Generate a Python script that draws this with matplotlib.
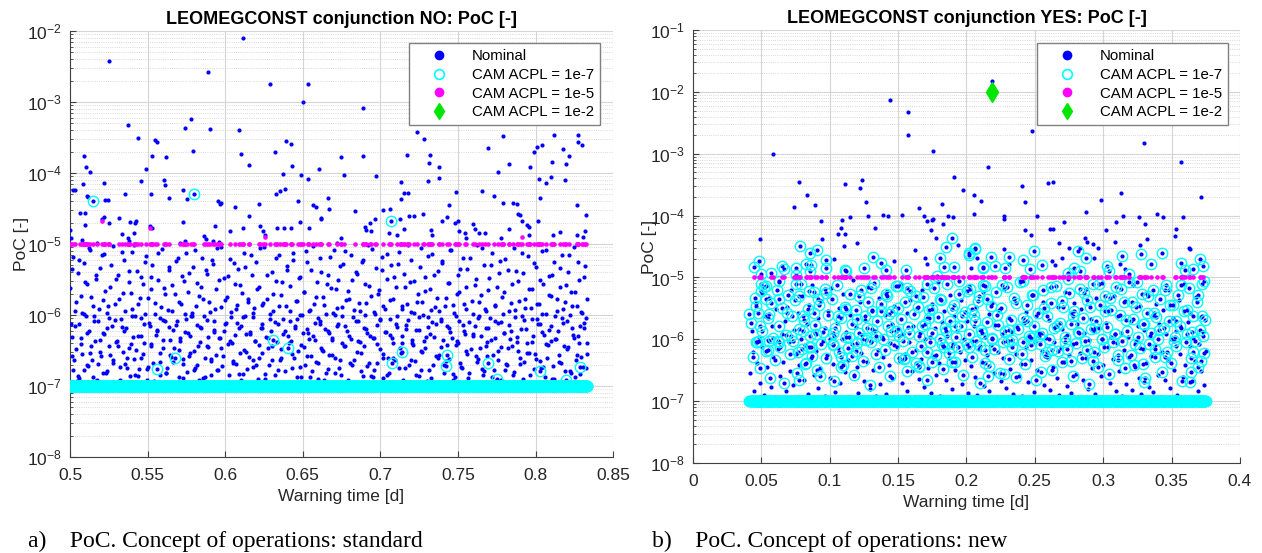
import numpy as np
import matplotlib
matplotlib.use("Agg")
import matplotlib.pyplot as plt
from matplotlib.lines import Line2D
from matplotlib.ticker import FuncFormatter, FixedLocator, NullFormatter, LogFormatterSciNotation

plt.rcParams['font.family'] = ['Liberation Sans', 'DejaVu Sans']
plt.rcParams['mathtext.default'] = 'regular'

# ---------------- data (warning time [d], log10 PoC) ----------------
# panel a) standard: dense nominal cloud below 1e-5
left_cloud = [
    (0.500,-5.62),(0.501,-6.31),(0.502,-5.18),(0.502,-6.77),(0.503,-5.95),(0.504,-6.48),(0.505,-5.41),(0.506,-6.12),(0.506,-6.89),(0.507,-5.73),
    (0.508,-6.55),(0.509,-5.27),(0.510,-6.02),(0.511,-6.71),(0.511,-5.56),(0.512,-6.23),(0.513,-5.09),(0.514,-6.64),(0.515,-5.88),(0.516,-6.37),
    (0.517,-5.49),(0.517,-6.93),(0.518,-6.08),(0.519,-5.34),(0.520,-6.58),(0.521,-5.79),(0.522,-6.27),(0.522,-5.14),(0.523,-6.82),(0.524,-5.97),
    (0.525,-6.44),(0.526,-5.61),(0.527,-6.15),(0.528,-5.03),(0.528,-6.68),(0.529,-5.85),(0.530,-6.36),(0.531,-5.44),(0.532,-6.91),(0.533,-6.05),
    (0.534,-5.69),(0.534,-6.52),(0.535,-5.22),(0.536,-6.19),(0.537,-6.75),(0.538,-5.53),(0.539,-6.41),(0.540,-5.91),(0.540,-5.11),(0.541,-6.62),
    (0.542,-6.01),(0.543,-5.38),(0.544,-6.86),(0.545,-5.76),(0.546,-6.29),(0.546,-5.47),(0.547,-6.55),(0.548,-5.98),(0.549,-5.17),(0.550,-6.73),
    (0.551,-6.11),(0.552,-5.64),(0.552,-6.43),(0.553,-5.29),(0.554,-6.94),(0.555,-5.83),(0.556,-6.22),(0.557,-5.51),(0.558,-6.66),(0.558,-6.04),
    (0.559,-5.07),(0.560,-6.35),(0.561,-5.71),(0.562,-6.81),(0.563,-5.93),(0.564,-6.17),(0.564,-5.36),(0.565,-6.59),(0.566,-5.58),(0.567,-6.47),
    (0.568,-5.24),(0.569,-6.09),(0.570,-6.88),(0.570,-5.81),(0.571,-6.32),(0.572,-5.45),(0.573,-6.69),(0.574,-5.99),(0.575,-5.13),(0.576,-6.26),
    (0.576,-5.67),(0.577,-6.53),(0.578,-6.02),(0.579,-5.33),(0.580,-6.78),(0.581,-5.87),(0.582,-6.14),(0.582,-5.55),(0.583,-6.92),(0.584,-6.38),
    (0.585,-5.19),(0.586,-5.78),(0.587,-6.61),(0.588,-6.07),(0.588,-5.42),(0.589,-6.45),(0.590,-5.96),(0.591,-6.84),(0.592,-5.28),(0.593,-6.21),
    (0.594,-5.63),(0.594,-6.57),(0.595,-5.06),(0.596,-6.33),(0.597,-5.89),(0.598,-6.72),(0.599,-5.48),(0.600,-6.12),(0.600,-6.96),(0.601,-5.74),
    (0.602,-6.41),(0.603,-5.21),(0.604,-6.03),(0.605,-6.65),(0.606,-5.57),(0.606,-6.28),(0.607,-5.92),(0.608,-5.35),(0.609,-6.83),(0.610,-6.16),
    (0.611,-5.69),(0.612,-6.49),(0.612,-5.12),(0.613,-6.01),(0.614,-6.76),(0.615,-5.82),(0.616,-6.24),(0.617,-5.44),(0.618,-6.63),(0.618,-5.97),
    (0.619,-6.37),(0.620,-5.26),(0.621,-6.90),(0.622,-5.61),(0.623,-6.18),(0.624,-5.86),(0.624,-6.54),(0.625,-5.04),(0.626,-6.31),(0.627,-5.77),
    (0.628,-6.70),(0.629,-6.06),(0.630,-5.39),(0.630,-6.44),(0.631,-5.94),(0.632,-6.85),(0.633,-5.52),(0.634,-6.13),(0.635,-5.16),(0.636,-6.60),
    (0.636,-5.72),(0.637,-6.27),(0.638,-6.97),(0.639,-5.87),(0.640,-5.31),(0.641,-6.40),(0.642,-6.08),(0.642,-5.59),(0.643,-6.74),(0.644,-5.23),
    (0.645,-6.19),(0.646,-5.80),(0.647,-6.51),(0.648,-6.00),(0.648,-5.46),(0.649,-6.87),(0.650,-6.25),(0.651,-5.68),(0.652,-5.10),(0.653,-6.58),
    (0.654,-5.95),(0.654,-6.34),(0.655,-5.37),(0.656,-6.79),(0.657,-5.84),(0.658,-6.11),(0.659,-5.54),(0.660,-6.67),(0.660,-6.04),(0.661,-5.20),
    (0.662,-6.46),(0.663,-5.75),(0.664,-6.91),(0.665,-5.99),(0.666,-6.22),(0.666,-5.43),(0.667,-6.56),(0.668,-5.62),(0.669,-6.35),(0.670,-5.08),
    (0.671,-6.82),(0.672,-5.90),(0.672,-6.15),(0.673,-5.50),(0.674,-6.63),(0.675,-6.02),(0.676,-5.28),(0.677,-6.43),(0.678,-5.79),(0.678,-6.94),
    (0.679,-5.66),(0.680,-6.29),(0.681,-5.15),(0.682,-6.71),(0.683,-5.93),(0.684,-6.09),(0.684,-5.40),(0.685,-6.52),(0.686,-5.83),(0.687,-6.38),
    (0.688,-5.25),(0.689,-6.86),(0.690,-6.00),(0.690,-5.57),(0.691,-6.20),(0.692,-5.02),(0.693,-6.68),(0.694,-5.73),(0.695,-6.33),(0.696,-5.96),
    (0.696,-6.78),(0.697,-5.34),(0.698,-6.14),(0.699,-5.65),(0.700,-6.48),(0.701,-5.18),(0.702,-6.89),(0.702,-5.88),(0.703,-6.24),(0.704,-5.49),
    (0.705,-6.60),(0.706,-6.05),(0.707,-5.30),(0.708,-6.39),(0.708,-5.78),(0.709,-6.95),(0.710,-5.60),(0.711,-6.17),(0.712,-5.11),(0.713,-6.54),
    (0.714,-5.91),(0.714,-6.30),(0.715,-5.42),(0.716,-6.75),(0.717,-5.85),(0.718,-6.07),(0.719,-5.53),(0.720,-6.64),(0.720,-5.22),(0.721,-6.42),
    (0.722,-5.97),(0.723,-6.84),(0.724,-5.70),(0.725,-6.21),(0.726,-5.05),(0.726,-6.50),(0.727,-5.81),(0.728,-6.36),(0.729,-5.46),(0.730,-6.93),
    (0.731,-6.03),(0.732,-5.63),(0.732,-6.27),(0.733,-5.14),(0.734,-6.70),(0.735,-5.89),(0.736,-6.12),(0.737,-5.38),(0.738,-6.57),(0.738,-5.94),
    (0.739,-6.45),(0.740,-5.27),(0.741,-6.81),(0.742,-5.76),(0.743,-6.16),(0.744,-5.55),(0.744,-6.62),(0.745,-5.09),(0.746,-6.32),(0.747,-5.86),
    (0.748,-6.88),(0.749,-6.01),(0.750,-5.44),(0.750,-6.40),(0.751,-5.67),(0.752,-6.73),(0.753,-5.19),(0.754,-6.23),(0.755,-5.92),(0.756,-6.55),
    (0.756,-5.35),(0.757,-6.10),(0.758,-6.96),(0.759,-5.80),(0.760,-6.29),(0.761,-5.58),(0.762,-6.66),(0.762,-5.01),(0.763,-6.04),(0.764,-6.47),
    (0.765,-5.72),(0.766,-6.85),(0.767,-5.29),(0.768,-6.19),(0.768,-5.95),(0.769,-6.58),(0.770,-5.48),(0.771,-6.35),(0.772,-5.13),(0.773,-6.77),
    (0.774,-5.87),(0.774,-6.08),(0.775,-5.60),(0.776,-6.51),(0.777,-5.24),(0.778,-6.92),(0.779,-5.98),(0.780,-6.26),(0.780,-5.68),(0.781,-6.69),
    (0.782,-5.37),(0.783,-6.14),(0.784,-5.83),(0.785,-6.44),(0.786,-5.06),(0.786,-6.80),(0.787,-5.93),(0.788,-6.31),(0.789,-5.52),(0.790,-6.61),
    (0.791,-6.02),(0.792,-5.41),(0.792,-6.90),(0.793,-5.77),(0.794,-6.20),(0.795,-5.17),(0.796,-6.53),(0.797,-5.90),(0.798,-6.38),(0.798,-5.64),
    (0.799,-6.76),(0.800,-5.32),(0.801,-6.06),(0.802,-5.84),(0.803,-6.65),(0.804,-5.10),(0.804,-6.24),(0.805,-5.56),(0.806,-6.87),(0.807,-5.99),
    (0.808,-6.42),(0.809,-5.45),(0.810,-6.15),(0.810,-5.73),(0.811,-6.72),(0.812,-5.26),(0.813,-6.34),(0.814,-5.94),(0.815,-6.57),(0.816,-5.61),
    (0.816,-6.94),(0.817,-5.15),(0.818,-6.11),(0.819,-5.82),(0.820,-6.48),(0.821,-5.39),(0.822,-6.79),(0.822,-6.00),(0.823,-5.68),(0.824,-6.28),
    (0.825,-5.04),(0.826,-6.63),(0.827,-5.88),(0.828,-6.39),(0.828,-5.50),(0.829,-6.83),(0.830,-5.97),(0.831,-6.18),(0.832,-5.31),(0.833,-6.55),
]
left_cloud_b = [
    (0.5005,-6.12),(0.5014,-5.35),(0.5027,-6.64),(0.5038,-5.81),(0.5046,-6.93),(0.5057,-5.22),(0.5069,-6.41),(0.5076,-5.97),(0.5088,-6.78),(0.5095,-5.54),
    (0.5107,-6.26),(0.5119,-5.05),(0.5126,-6.53),(0.5137,-5.74),(0.5148,-6.88),(0.5156,-6.02),(0.5167,-5.43),(0.5178,-6.69),(0.5185,-5.91),(0.5196,-6.35),
    (0.5208,-5.16),(0.5215,-6.81),(0.5227,-5.66),(0.5239,-6.18),(0.5246,-5.87),(0.5257,-6.57),(0.5264,-5.29),(0.5276,-6.95),(0.5288,-6.07),(0.5295,-5.49),
    (0.5306,-6.44),(0.5318,-5.78),(0.5325,-6.73),(0.5336,-5.11),(0.5347,-6.22),(0.5355,-5.94),(0.5366,-6.61),(0.5377,-5.38),(0.5385,-6.86),(0.5396,-5.69),
    (0.5407,-6.31),(0.5414,-5.02),(0.5426,-6.49),(0.5438,-5.84),(0.5445,-6.76),(0.5456,-6.04),(0.5468,-5.57),(0.5475,-6.39),(0.5486,-5.25),(0.5497,-6.91),
    (0.5505,-5.76),(0.5517,-6.15),(0.5524,-5.46),(0.5536,-6.67),(0.5547,-5.99),(0.5555,-6.28),(0.5566,-5.13),(0.5578,-6.84),(0.5585,-5.89),(0.5596,-6.46),
    (0.5608,-5.62),(0.5615,-6.09),(0.5627,-6.74),(0.5638,-5.32),(0.5646,-6.56),(0.5657,-5.95),(0.5664,-6.21),(0.5676,-5.71),(0.5687,-6.97),(0.5695,-5.19),
    (0.5706,-6.37),(0.5718,-5.85),(0.5725,-6.62),(0.5737,-5.52),(0.5748,-6.05),(0.5756,-6.80),(0.5767,-5.41),(0.5775,-6.29),(0.5786,-5.97),(0.5798,-6.50),
    (0.5805,-5.08),(0.5816,-6.71),(0.5828,-5.73),(0.5836,-6.17),(0.5847,-5.60),(0.5855,-6.89),(0.5866,-6.01),(0.5877,-5.37),(0.5885,-6.43),(0.5896,-5.82),
    (0.5908,-6.65),(0.5916,-5.23),(0.5927,-6.24),(0.5935,-5.92),(0.5946,-6.77),(0.5957,-5.50),(0.5965,-6.33),(0.5976,-5.04),(0.5988,-6.58),(0.5996,-5.79),
    (0.6007,-6.11),(0.6018,-5.45),(0.6026,-6.85),(0.6037,-5.96),(0.6045,-6.40),(0.6056,-5.27),(0.6068,-6.69),(0.6075,-5.86),(0.6087,-6.19),(0.6096,-5.58),
    (0.6105,-6.92),(0.6117,-6.03),(0.6126,-5.33),(0.6135,-6.52),(0.6146,-5.77),(0.6157,-6.27),(0.6165,-5.15),(0.6176,-6.73),(0.6187,-5.90),(0.6195,-6.36),
    (0.6206,-5.64),(0.6218,-6.60),(0.6226,-5.06),(0.6237,-6.13),(0.6245,-5.83),(0.6256,-6.83),(0.6268,-5.44),(0.6275,-6.47),(0.6286,-5.98),(0.6297,-6.22),
    (0.6305,-5.70),(0.6317,-6.94),(0.6325,-5.20),(0.6336,-6.38),(0.6348,-5.88),(0.6356,-6.63),(0.6367,-5.53),(0.6375,-6.06),(0.6386,-6.79),(0.6397,-5.36),
    (0.6405,-6.30),(0.6416,-5.94),(0.6428,-6.55),(0.6436,-5.12),(0.6447,-6.16),(0.6455,-5.80),(0.6466,-6.87),(0.6478,-5.48),(0.6486,-6.42),(0.6497,-6.00),
    (0.6505,-5.67),(0.6516,-6.70),(0.6527,-5.26),(0.6536,-6.25),(0.6547,-5.93),(0.6555,-6.58),(0.6566,-5.03),(0.6577,-6.35),(0.6585,-5.75),(0.6596,-6.90),
    (0.6608,-6.08),(0.6616,-5.40),(0.6627,-6.49),(0.6635,-5.86),(0.6646,-6.20),(0.6657,-5.56),(0.6665,-6.76),(0.6676,-5.18),(0.6688,-6.32),(0.6696,-5.97),
    (0.6707,-6.61),(0.6715,-5.63),(0.6726,-6.12),(0.6737,-5.31),(0.6745,-6.84),(0.6756,-5.89),(0.6767,-6.44),(0.6775,-5.10),(0.6786,-6.23),(0.6798,-5.78),
    (0.6806,-6.67),(0.6817,-5.51),(0.6825,-6.03),(0.6836,-6.95),(0.6847,-5.42),(0.6855,-6.37),(0.6866,-5.95),(0.6878,-6.54),(0.6886,-5.22),(0.6897,-6.18),
    (0.6905,-5.83),(0.6916,-6.72),(0.6928,-5.59),(0.6936,-6.29),(0.6947,-5.07),(0.6955,-6.88),(0.6966,-5.99),(0.6977,-6.41),(0.6985,-5.71),(0.6996,-6.07),
    (0.7008,-5.37),(0.7016,-6.60),(0.7027,-5.91),(0.7035,-6.24),(0.7046,-5.14),(0.7057,-6.81),(0.7065,-5.79),(0.7076,-6.33),(0.7088,-5.47),(0.7096,-6.63),
    (0.7107,-6.02),(0.7115,-5.28),(0.7126,-6.46),(0.7137,-5.87),(0.7145,-6.92),(0.7156,-5.60),(0.7167,-6.14),(0.7175,-5.02),(0.7186,-6.70),(0.7197,-5.96),
    (0.7205,-6.39),(0.7216,-5.52),(0.7228,-6.21),(0.7236,-5.82),(0.7247,-6.86),(0.7255,-5.33),(0.7266,-6.52),(0.7277,-6.00),(0.7285,-5.66),(0.7296,-6.31),
    (0.7308,-5.17),(0.7316,-6.77),(0.7327,-5.93),(0.7335,-6.10),(0.7346,-5.43),(0.7357,-6.58),(0.7365,-5.76),(0.7376,-6.96),(0.7388,-6.05),(0.7396,-5.24),
    (0.7407,-6.35),(0.7415,-5.88),(0.7426,-6.65),(0.7437,-5.55),(0.7445,-6.19),(0.7456,-5.09),(0.7467,-6.83),(0.7475,-5.97),(0.7486,-6.42),(0.7497,-5.70),
    (0.7505,-6.09),(0.7516,-5.35),(0.7528,-6.74),(0.7536,-5.84),(0.7547,-6.27),(0.7555,-5.61),(0.7566,-6.89),(0.7577,-5.19),(0.7585,-6.48),(0.7596,-5.99),
    (0.7608,-6.16),(0.7616,-5.49),(0.7627,-6.62),(0.7635,-5.81),(0.7646,-6.30),(0.7657,-5.05),(0.7665,-6.79),(0.7676,-5.92),(0.7688,-6.38),(0.7696,-5.65),
    (0.7707,-6.04),(0.7715,-5.30),(0.7726,-6.56),(0.7737,-5.86),(0.7745,-6.93),(0.7756,-6.11),(0.7767,-5.41),(0.7775,-6.45),(0.7786,-5.75),(0.7797,-6.25),
    (0.7805,-5.21),(0.7816,-6.71),(0.7828,-5.94),(0.7836,-6.34),(0.7847,-5.57),(0.7855,-6.85),(0.7866,-6.03),(0.7877,-5.38),(0.7885,-6.50),(0.7896,-5.80),
    (0.7908,-6.20),(0.7916,-5.12),(0.7927,-6.66),(0.7935,-5.90),(0.7946,-6.40),(0.7957,-5.63),(0.7965,-6.97),(0.7976,-6.06),(0.7988,-5.27),(0.7996,-6.55),
    (0.8007,-5.85),(0.8015,-6.13),(0.8026,-5.50),(0.8037,-6.75),(0.8045,-5.98),(0.8056,-6.28),(0.8067,-5.08),(0.8075,-6.60),(0.8086,-5.72),(0.8097,-6.37),
    (0.8105,-5.44),(0.8116,-6.90),(0.8128,-6.01),(0.8136,-5.77),(0.8147,-6.23),(0.8155,-5.34),(0.8166,-6.68),(0.8177,-5.91),(0.8185,-6.43),(0.8196,-5.58),
    (0.8205,-6.08),(0.8216,-5.16),(0.8227,-6.82),(0.8235,-5.87),(0.8246,-6.32),(0.8257,-5.67),(0.8265,-6.57),(0.8276,-5.25),(0.8288,-6.16),(0.8296,-5.96),
    (0.8307,-6.73),(0.8315,-5.46),(0.8326,-6.04),(0.8332,-5.78),
]
left_cloud_c = [
    (0.5012,-6.58),(0.5034,-6.15),(0.5051,-6.86),(0.5073,-6.33),(0.5092,-5.98),(0.5114,-6.72),(0.5133,-6.44),(0.5152,-6.09),(0.5174,-6.91),(0.5193,-6.52),
    (0.5215,-6.26),(0.5236,-6.79),(0.5254,-6.04),(0.5277,-6.63),(0.5295,-6.38),(0.5316,-6.95),(0.5338,-6.17),(0.5357,-6.69),(0.5378,-6.47),(0.5397,-6.02),
    (0.5418,-6.84),(0.5439,-6.29),(0.5457,-6.61),(0.5479,-6.12),(0.5498,-6.76),(0.5519,-6.41),(0.5541,-6.93),(0.5559,-6.21),(0.5581,-6.54),(0.5602,-6.07),
    (0.5621,-6.82),(0.5642,-6.35),(0.5663,-6.66),(0.5682,-6.14),(0.5704,-6.49),(0.5725,-6.89),(0.5744,-6.24),(0.5766,-6.58),(0.5785,-6.01),(0.5806,-6.74),
    (0.5827,-6.43),(0.5846,-6.19),(0.5868,-6.87),(0.5889,-6.31),(0.5908,-6.62),(0.5929,-6.08),(0.5951,-6.78),(0.5970,-6.46),(0.5991,-6.22),(0.6013,-6.94),
    (0.6032,-6.36),(0.6053,-6.68),(0.6074,-6.11),(0.6093,-6.53),(0.6115,-6.83),(0.6136,-6.27),(0.6155,-6.59),(0.6176,-6.03),(0.6198,-6.71),(0.6217,-6.42),
    (0.6238,-6.18),(0.6259,-6.90),(0.6278,-6.33),(0.6300,-6.64),(0.6321,-6.10),(0.6340,-6.77),(0.6361,-6.48),(0.6383,-6.23),(0.6402,-6.96),(0.6423,-6.37),
    (0.6444,-6.60),(0.6463,-6.05),(0.6485,-6.73),(0.6506,-6.45),(0.6525,-6.20),(0.6546,-6.88),(0.6568,-6.30),(0.6587,-6.66),(0.6608,-6.13),(0.6629,-6.51),
    (0.6648,-6.81),(0.6670,-6.26),(0.6691,-6.57),(0.6710,-6.00),(0.6731,-6.75),(0.6753,-6.40),(0.6772,-6.16),(0.6793,-6.92),(0.6814,-6.34),(0.6833,-6.63),
    (0.6855,-6.09),(0.6876,-6.79),(0.6895,-6.44),(0.6916,-6.25),(0.6938,-6.86),(0.6957,-6.32),(0.6978,-6.67),(0.6999,-6.06),(0.7018,-6.55),(0.7040,-6.84),
    (0.7061,-6.28),(0.7080,-6.61),(0.7101,-6.12),(0.7123,-6.74),(0.7142,-6.39),(0.7163,-6.20),(0.7184,-6.94),(0.7203,-6.35),(0.7225,-6.65),(0.7246,-6.03),
    (0.7265,-6.77),(0.7286,-6.46),(0.7308,-6.17),(0.7327,-6.89),(0.7348,-6.31),(0.7369,-6.60),(0.7388,-6.08),(0.7410,-6.71),(0.7431,-6.42),(0.7450,-6.24),
    (0.7471,-6.91),(0.7493,-6.36),(0.7512,-6.68),(0.7533,-6.14),(0.7554,-6.50),(0.7573,-6.82),(0.7595,-6.27),(0.7616,-6.58),(0.7635,-6.02),(0.7656,-6.76),
    (0.7678,-6.43),(0.7697,-6.19),(0.7718,-6.87),(0.7739,-6.33),(0.7758,-6.64),(0.7780,-6.10),(0.7801,-6.78),(0.7820,-6.47),(0.7841,-6.22),(0.7863,-6.95),
    (0.7882,-6.38),(0.7903,-6.69),(0.7924,-6.07),(0.7943,-6.53),(0.7965,-6.85),(0.7986,-6.29),(0.8005,-6.62),(0.8026,-6.13),(0.8048,-6.73),(0.8067,-6.41),
    (0.8088,-6.21),(0.8109,-6.90),(0.8128,-6.34),(0.8150,-6.66),(0.8171,-6.04),(0.8190,-6.79),(0.8211,-6.45),(0.8233,-6.18),(0.8252,-6.88),(0.8273,-6.30),
    (0.8294,-6.59),(0.8313,-6.11),(0.8324,-6.75),(0.8330,-6.40),
]
# panel a) sparse nominal points above ~1e-5
left_sparse = [
    (0.5253,-2.42),(0.6113,-2.10),(0.5887,-2.58),(0.6289,-2.75),(0.6536,-2.74),(0.6501,-3.00),(0.5376,-3.32),(0.5440,-3.51),
    (0.5546,-3.54),(0.5561,-3.56),(0.5531,-3.76),(0.5621,-3.78),(0.5743,-3.36),(0.5780,-3.24),(0.5902,-3.38),(0.5790,-3.69),
    (0.6089,-3.39),(0.6102,-3.73),(0.6155,-3.89),(0.6323,-3.71),(0.6392,-3.55),(0.6422,-3.59),(0.6428,-3.90),(0.6375,-4.01),
    (0.6489,-4.03),(0.6536,-4.08),(0.6604,-3.95),(0.5092,-3.76),(0.5101,-3.92),(0.5131,-3.98),(0.5086,-4.16),(0.5022,-4.24),
    (0.5032,-4.24),(0.5107,-4.32),(0.5118,-4.34),(0.5219,-4.14),(0.5228,-4.38),(0.5243,-4.38),(0.5356,-4.29),(0.5457,-4.11),
    (0.5491,-3.95),(0.5519,-4.29),(0.5603,-4.10),(0.5610,-4.17),(0.5640,-4.35),(0.5728,-4.24),(0.5752,-4.37),(0.5064,-4.56),
    (0.5099,-4.56),(0.5099,-4.73),(0.5000,-4.80),(0.5206,-4.65),(0.5221,-4.62),(0.5251,-4.70),(0.5314,-4.63),(0.5387,-4.69),
    (0.5419,-4.70),(0.5425,-4.68),(0.5414,-4.84),(0.5335,-4.86),(0.5374,-4.92),(0.5513,-4.74),(0.5528,-4.77),(0.5728,-4.69),
    (0.5932,-4.74),(0.5952,-4.40),(0.5967,-4.43),(0.5973,-4.42),(0.6063,-4.48),(0.6151,-4.61),(0.6218,-4.43),(0.6226,-4.75),
    (0.6245,-4.81),(0.6254,-4.88),(0.6327,-4.30),(0.6351,-4.25),(0.6385,-4.22),(0.6336,-4.77),(0.6377,-4.77),(0.6426,-4.78),
    (0.6467,-4.39),(0.6484,-4.69),(0.6564,-4.45),(0.6587,-4.48),(0.6615,-4.63),(0.6619,-4.65),(0.6660,-4.35),(0.6671,-4.51),
    (0.6540,-4.78),(0.6033,-4.81),(0.6115,-4.77),(0.5005,-4.92),(0.5077,-4.94),(0.5861,-4.89),(0.5876,-4.93),(0.5921,-4.96),
    (0.5962,-4.97),(0.5709,-4.98),(0.5743,-4.96),(0.6746,-3.77),(0.6767,-4.03),(0.6720,-4.99),(0.6746,-4.91),(0.5176,-4.99),
    (0.5378,-4.96),(0.6886,-3.08),(0.6890,-3.76),(0.6971,-4.04),(0.6835,-4.54),(0.6902,-4.76),(0.6906,-4.80),(0.6938,-4.82),
    (0.6934,-4.70),(0.6968,-4.65),(0.7018,-4.52),(0.7061,-4.50),(0.7056,-4.85),(0.7126,-4.65),(0.7150,-4.79),(0.7107,-4.88),
    (0.7135,-4.36),(0.7154,-4.28),(0.7178,-4.28),(0.7131,-4.13),(0.7172,-3.75),(0.7236,-3.42),(0.7279,-3.52),(0.7311,-3.86),
    (0.7319,-3.75),(0.7308,-4.11),(0.7375,-4.07),(0.7377,-3.91),(0.7186,-4.60),(0.7218,-4.60),(0.7274,-4.58),(0.7326,-4.80),
    (0.7336,-4.88),(0.7397,-4.68),(0.7431,-4.62),(0.7444,-4.45),(0.7489,-4.27),(0.7502,-4.68),(0.7483,-4.71),(0.7509,-4.81),
    (0.7543,-4.85),(0.7554,-4.91),(0.7599,-4.72),(0.7607,-4.79),(0.7637,-4.85),(0.7676,-4.84),(0.7657,-4.25),(0.7734,-4.32),
    (0.7758,-3.98),(0.7790,-4.42),(0.7831,-3.87),(0.7857,-4.42),(0.7878,-4.44),(0.7695,-3.65),(0.7793,-3.48),(0.7889,-4.58),
    (0.7899,-4.59),(0.7916,-4.67),(0.7946,-4.73),(0.7959,-4.76),(0.7957,-4.88),(0.7831,-4.79),(0.7775,-4.91),(0.7964,-3.92),
    (0.7992,-3.71),(0.8007,-3.63),(0.8039,-3.61),(0.8024,-4.08),(0.8067,-4.14),(0.8103,-4.06),(0.8031,-4.35),(0.8107,-3.84),
    (0.8118,-3.47),(0.8176,-3.66),(0.8197,-3.87),(0.8191,-4.10),(0.8219,-3.76),(0.8271,-3.47),(0.8275,-3.56),(0.8298,-3.61),
    (0.8268,-4.45),(0.8324,-4.59),(0.8318,-4.82),(0.8266,-4.87),(0.8303,-4.90),(0.8157,-4.83),(0.8114,-4.87),(0.8013,-4.67),
]
# panel a) nominal points marked with a CAM 1e-7 circle
left_cam7 = [
    (0.5146,-4.39),(0.5801,-4.29),(0.7067,-4.68),(0.5560,-6.76),(0.5674,-6.60),(0.6308,-6.35),(0.6403,-6.47),
    (0.7139,-6.52),(0.7074,-6.68),(0.7429,-6.56),(0.7426,-6.72),(0.7697,-6.67),(0.8026,-6.79),(0.8284,-6.73),
    (0.7755,-6.90),(0.8197,-6.91),
]
# panel a) CAM 1e-5 points that sit above the 1e-5 level
left_cam5_extra = [(0.5208,-4.68),(0.5513,-4.77),(0.6254,-4.90),(0.7916,-4.90)]

# panel b) new: dense nominal cloud (not circled)
right_cloud = [
    (0.0420,-6.55),(0.0431,-5.87),(0.0442,-6.21),(0.0449,-6.84),(0.0461,-5.42),(0.0468,-6.38),(0.0482,-5.96),(0.0489,-6.70),(0.0503,-5.25),(0.0508,-6.12),
    (0.0521,-6.90),(0.0527,-5.63),(0.0541,-6.45),(0.0552,-6.01),(0.0558,-5.34),(0.0572,-6.77),(0.0579,-5.79),(0.0588,-6.29),(0.0601,-6.93),(0.0607,-5.51),
    (0.0622,-6.16),(0.0628,-5.08),(0.0640,-6.60),(0.0651,-5.92),(0.0659,-6.36),(0.0672,-5.70),(0.0679,-6.83),(0.0688,-5.47),(0.0702,-6.05),(0.0709,-6.51),
    (0.0720,-5.21),(0.0731,-6.74),(0.0738,-5.85),(0.0752,-6.24),(0.0759,-6.95),(0.0771,-5.58),(0.0778,-6.42),(0.0792,-5.99),(0.0799,-5.30),(0.0812,-6.66),
    (0.0818,-6.10),(0.0832,-5.76),(0.0841,-6.88),(0.0849,-5.44),(0.0861,-6.31),(0.0868,-5.13),(0.0882,-6.57),(0.0889,-5.90),(0.0901,-6.19),(0.0912,-6.79),
    (0.0918,-5.66),(0.0932,-6.47),(0.0939,-5.38),(0.0951,-6.03),(0.0962,-6.91),(0.0968,-5.82),(0.0981,-6.26),(0.0989,-5.55),(0.1002,-6.63),(0.1009,-5.17),
    (0.1021,-6.40),(0.1032,-5.95),(0.1038,-6.85),(0.1052,-5.73),(0.1059,-6.14),(0.1071,-5.49),(0.1078,-6.71),(0.1092,-6.00),(0.1099,-5.27),(0.1112,-6.53),
    (0.1118,-5.88),(0.1132,-6.33),(0.1139,-6.94),(0.1151,-5.61),(0.1162,-6.08),(0.1168,-5.04),(0.1181,-6.60),(0.1189,-5.80),(0.1202,-6.45),(0.1209,-6.86),
    (0.1221,-5.40),(0.1232,-6.22),(0.1238,-5.93),(0.1252,-6.68),(0.1259,-5.68),(0.1271,-6.37),(0.1278,-5.15),(0.1292,-6.80),(0.1299,-6.02),(0.1312,-5.53),
    (0.1318,-6.50),(0.1332,-5.86),(0.1339,-6.92),(0.1351,-6.17),(0.1362,-5.33),(0.1368,-6.73),(0.1381,-5.97),(0.1389,-6.28),(0.1402,-5.60),(0.1409,-6.89),
    (0.1421,-5.22),(0.1432,-6.41),(0.1438,-6.06),(0.1452,-5.75),(0.1459,-6.62),(0.1471,-5.46),(0.1478,-6.96),(0.1492,-6.13),(0.1499,-5.83),(0.1512,-6.35),
    (0.1518,-5.10),(0.1532,-6.70),(0.1539,-5.92),(0.1551,-6.23),(0.1562,-5.57),(0.1568,-6.84),(0.1581,-6.04),(0.1589,-5.36),(0.1602,-6.52),(0.1609,-5.78),
    (0.1621,-6.93),(0.1632,-6.18),(0.1638,-5.50),(0.1652,-6.64),(0.1659,-5.89),(0.1671,-6.32),(0.1678,-5.20),(0.1692,-6.77),(0.1699,-6.00),(0.1712,-5.65),
    (0.1718,-6.46),(0.1732,-5.97),(0.1739,-6.87),(0.1751,-5.43),(0.1762,-6.27),(0.1768,-5.81),(0.1781,-6.58),(0.1789,-5.07),(0.1802,-6.39),(0.1809,-6.91),
    (0.1821,-5.72),(0.1832,-6.11),(0.1838,-5.54),(0.1852,-6.66),(0.1859,-5.94),(0.1871,-6.30),(0.1878,-5.28),(0.1892,-6.81),(0.1899,-6.07),(0.1912,-5.62),
    (0.1918,-6.49),(0.1932,-5.87),(0.1939,-6.95),(0.1951,-6.20),(0.1962,-5.37),(0.1968,-6.72),(0.1981,-5.99),(0.1989,-6.34),(0.2002,-5.70),(0.2009,-6.86),
    (0.2021,-5.14),(0.2032,-6.43),(0.2038,-6.03),(0.2052,-5.79),(0.2059,-6.61),(0.2071,-5.48),(0.2078,-6.90),(0.2092,-6.15),(0.2099,-5.85),(0.2112,-6.37),
    (0.2118,-5.24),(0.2132,-6.75),(0.2139,-5.96),(0.2151,-6.26),(0.2162,-5.59),(0.2168,-6.83),(0.2181,-6.09),(0.2189,-5.41),(0.2202,-6.55),(0.2209,-5.77),
    (0.2221,-6.94),(0.2232,-6.21),(0.2238,-5.52),(0.2252,-6.67),(0.2259,-5.91),(0.2271,-6.31),(0.2278,-5.18),(0.2292,-6.79),(0.2299,-6.02),(0.2312,-5.66),
    (0.2318,-6.48),(0.2332,-5.88),(0.2339,-6.88),(0.2351,-5.35),(0.2362,-6.24),(0.2368,-5.80),(0.2381,-6.59),(0.2389,-5.06),(0.2402,-6.40),(0.2409,-6.92),
    (0.2421,-5.74),(0.2432,-6.12),(0.2438,-5.56),(0.2452,-6.69),(0.2459,-5.95),(0.2471,-6.33),(0.2478,-5.29),(0.2492,-6.85),(0.2499,-6.05),(0.2512,-5.63),
    (0.2518,-6.50),(0.2532,-5.90),(0.2539,-6.97),(0.2551,-6.19),(0.2562,-5.39),(0.2568,-6.74),(0.2581,-5.98),(0.2589,-6.28),(0.2602,-5.69),(0.2609,-6.82),
    (0.2621,-5.16),(0.2632,-6.44),(0.2638,-6.04),(0.2652,-5.78),(0.2659,-6.63),(0.2671,-5.47),(0.2678,-6.90),(0.2692,-6.14),(0.2699,-5.84),(0.2712,-6.36),
    (0.2718,-5.23),(0.2732,-6.76),(0.2739,-5.93),(0.2751,-6.25),(0.2762,-5.58),(0.2768,-6.86),(0.2781,-6.08),(0.2789,-5.42),(0.2802,-6.56),(0.2809,-5.76),
    (0.2821,-6.93),(0.2832,-6.22),(0.2838,-5.51),(0.2852,-6.65),(0.2859,-5.90),(0.2871,-6.30),(0.2878,-5.19),(0.2892,-6.80),(0.2899,-6.01),(0.2912,-5.67),
    (0.2918,-6.47),(0.2932,-5.87),(0.2939,-6.89),(0.2951,-5.34),(0.2962,-6.23),(0.2968,-5.81),(0.2981,-6.60),(0.2989,-5.09),(0.3002,-6.41),(0.3009,-6.95),
    (0.3021,-5.73),(0.3032,-6.13),(0.3038,-5.55),(0.3052,-6.70),(0.3059,-5.96),(0.3071,-6.32),(0.3078,-5.30),(0.3092,-6.84),(0.3099,-6.06),(0.3112,-5.62),
    (0.3118,-6.51),(0.3132,-5.89),(0.3139,-6.91),(0.3151,-6.18),(0.3162,-5.38),(0.3168,-6.73),(0.3181,-5.97),(0.3189,-6.29),(0.3202,-5.70),(0.3209,-6.82),
    (0.3221,-5.12),(0.3232,-6.45),(0.3238,-6.03),(0.3252,-5.79),(0.3259,-6.62),(0.3271,-5.46),(0.3278,-6.88),(0.3292,-6.16),(0.3299,-5.85),(0.3312,-6.38),
    (0.3318,-5.26),(0.3332,-6.77),(0.3339,-5.94),(0.3351,-6.27),(0.3362,-5.60),(0.3368,-6.85),(0.3381,-6.10),(0.3389,-5.43),(0.3402,-6.57),(0.3409,-5.75),
    (0.3421,-6.94),(0.3432,-6.20),(0.3438,-5.53),(0.3452,-6.66),(0.3459,-5.92),(0.3471,-6.34),(0.3478,-5.21),(0.3492,-6.78),(0.3499,-6.00),(0.3512,-5.65),
    (0.3518,-6.49),(0.3532,-5.86),(0.3539,-6.90),(0.3551,-5.36),(0.3562,-6.24),(0.3568,-5.82),(0.3581,-6.61),(0.3589,-5.11),(0.3602,-6.42),(0.3609,-6.96),
    (0.3621,-5.72),(0.3632,-6.11),(0.3638,-5.57),(0.3652,-6.68),(0.3659,-5.98),(0.3671,-6.35),(0.3678,-5.31),(0.3692,-6.83),(0.3699,-6.07),(0.3712,-5.64),
    (0.3718,-6.52),(0.3732,-5.88),(0.3739,-6.74),(0.3750,-6.19),
]
# panel b) sparse nominal points above ~1e-5 (not circled)
right_sparse = [
    (0.1441,-2.13),(0.1574,-2.33),(0.1574,-2.69),(0.0588,-3.00),(0.1754,-2.95),(0.0778,-3.46),(0.0831,-3.67),(0.0889,-3.83),
    (0.0739,-3.86),(0.1115,-3.49),(0.1234,-3.43),(0.1225,-3.56),(0.1266,-3.78),(0.1907,-3.37),(0.1973,-3.58),(0.1822,-3.82),
    (0.1652,-3.88),(0.0936,-4.09),(0.0943,-4.38),(0.1028,-4.70),(0.1091,-4.07),(0.1081,-4.20),(0.1059,-4.30),(0.1115,-4.30),
    (0.1145,-4.02),(0.1101,-4.49),(0.1201,-4.45),(0.1281,-4.01),(0.1334,-4.20),(0.1392,-3.99),(0.1429,-4.01),(0.1531,-3.99),
    (0.1689,-4.01),(0.1708,-4.09),(0.1747,-4.07),(0.1759,-4.06),(0.1740,-4.23),(0.1779,-4.36),(0.1830,-4.13),(0.1866,-4.01),
    (0.1903,-4.02),(0.1939,-4.48),(0.1623,-4.56),(0.1699,-4.68),(0.1708,-4.79),(0.0489,-4.38),(0.1473,-4.74),
    (0.2184,-1.82),(0.2483,-2.64),(0.3297,-2.82),(0.3572,-3.13),(0.2155,-3.22),(0.2403,-3.52),(0.2430,-3.78),(0.2595,-3.48),
    (0.2636,-3.46),(0.2058,-3.66),(0.2107,-3.77),(0.2053,-3.97),(0.2272,-4.01),(0.2272,-4.05),(0.2515,-4.00),(0.2430,-4.24),
    (0.2474,-4.32),(0.2612,-4.22),(0.2636,-4.22),(0.2714,-4.11),(0.2877,-3.94),(0.2986,-3.75),(0.3132,-3.63),(0.3018,-4.23),
    (0.3094,-4.10),(0.3146,-4.00),(0.3260,-4.02),(0.3397,-3.98),(0.3438,-4.02),(0.3584,-4.03),(0.3306,-4.14),(0.3523,-4.33),
    (0.3535,-4.22),(0.3713,-3.70),(0.2674,-4.45),(0.2747,-4.53),(0.2696,-4.68),(0.2828,-4.53),(0.2867,-4.37),(0.2882,-4.42),
    (0.2926,-4.46),(0.2961,-4.53),(0.2932,-4.69),(0.3085,-4.43),(0.3122,-4.78),(0.3158,-4.87),(0.3270,-4.47),(0.3319,-4.38),
    (0.3625,-4.52),(0.3634,-4.54),(0.2272,-4.54),(0.2308,-4.78),(0.2077,-4.68),(0.2033,-4.85),(0.2624,-4.74),(0.2651,-4.80),
]
# panel b) nominal points marked with a CAM 1e-7 circle
right_cam7 = [
    (0.0780,-4.49),(0.0904,-4.55),(0.0855,-4.60),(0.1319,-4.67),(0.1372,-4.77),(0.0974,-4.72),(0.0972,-4.84),(0.0486,-4.74),
    (0.0445,-4.83),(0.0651,-4.82),(0.0663,-4.86),(0.0753,-4.84),(0.0826,-4.79),(0.0865,-4.80),(0.1110,-4.88),(0.1251,-4.84),
    (0.1409,-4.88),(0.1560,-4.88),(0.1805,-4.69),(0.1847,-4.50),(0.1895,-4.37),(0.1834,-4.83),(0.1912,-4.83),(0.2017,-4.63),
    (0.2019,-4.60),(0.2060,-4.53),(0.2177,-4.67),(0.2211,-4.81),(0.2308,-4.67),(0.2410,-4.72),(0.2466,-4.86),(0.2495,-4.58),
    (0.2741,-4.92),(0.2790,-4.84),(0.2819,-4.58),(0.2872,-4.68),(0.3041,-4.90),(0.3134,-4.65),(0.3280,-4.62),(0.3431,-4.61),
    (0.3567,-4.77),(0.3657,-4.86),(0.3729,-4.82),(0.2121,-4.83),(0.0498,-4.94),(0.0571,-4.92),(0.0753,-4.96),(0.0855,-4.90),
    (0.1118,-4.90),(0.2060,-4.54),(0.2119,-4.84),(0.1786,-4.98),
    (0.0498,-5.11),(0.0498,-5.22),(0.0535,-5.35),(0.0462,-5.46),(0.0413,-5.59),(0.0491,-5.78),(0.0559,-5.59),(0.0627,-5.35),
    (0.0685,-5.57),(0.0535,-5.14),(0.0632,-5.06),(0.0753,-5.11),(0.0772,-5.30),(0.0850,-5.22),(0.0802,-5.62),(0.0887,-5.57),
    (0.0911,-5.35),(0.0976,-5.25),(0.1062,-5.62),(0.1118,-5.51),(0.1215,-5.30),(0.1203,-5.67),(0.1276,-5.81),(0.1300,-5.17),
    (0.1409,-5.27),(0.1482,-5.14),(0.1567,-5.17),(0.1501,-5.49),(0.1433,-5.59),(0.1373,-5.54),(0.1307,-5.54),(0.1628,-5.30),
    (0.1713,-5.11),(0.1750,-5.51),(0.1810,-5.35),(0.1895,-5.51),(0.1968,-5.62),(0.1919,-5.78),(0.1847,-5.86),(0.1725,-5.65),
    (0.1677,-5.78),(0.1580,-5.89),(0.1507,-5.94),(0.1446,-5.86),(0.1336,-5.94),(0.1239,-5.99),(0.1142,-5.97),(0.1021,-5.89),
    (0.1021,-6.08),(0.0899,-5.92),(0.0802,-5.86),(0.0717,-5.94),(0.0632,-6.04),(0.0554,-6.03),(0.0486,-6.03),(0.0765,-6.21),
    (0.0850,-6.13),(0.1081,-6.29),(0.1191,-6.19),(0.1300,-6.05),(0.1543,-6.32),(0.1652,-6.43),(0.1713,-6.21),(0.1834,-6.13),
    (0.1919,-6.37),(0.2017,-6.13),(0.2065,-5.70),(0.2114,-5.89),(0.2041,-5.51),(0.2089,-5.30),(0.2004,-5.22),(0.2138,-5.14),
    (0.1944,-5.06),(0.0778,-6.65),
    (0.0926,-6.59),(0.2547,-6.53),(0.2272,-6.56),(0.2156,-6.59),(0.2133,-6.38),(0.3300,-6.69),(0.3632,-6.69),(0.3642,-6.53),
    (0.3453,-6.29),(0.3713,-6.35),(0.3294,-6.40),(0.2923,-6.35),(0.2764,-6.35),(0.2628,-6.17),(0.1650,-6.45),(0.1751,-6.37),
    (0.1548,-6.30),(0.1085,-6.45),(0.1166,-6.27),(0.0819,-6.40),(0.0463,-6.05),(0.0550,-6.17),(0.0622,-6.02),(0.0860,-6.13),
    (0.1022,-6.09),(0.1824,-6.08),(0.1896,-6.13),(0.2098,-6.11),(0.2301,-6.02),(0.2411,-6.05),
    (0.2150,-5.35),(0.2220,-5.60),(0.2260,-5.12),(0.2310,-5.85),(0.2360,-5.42),(0.2410,-5.05),(0.2440,-5.70),(0.2490,-5.28),
    (0.2530,-5.95),(0.2570,-5.50),(0.2620,-5.15),(0.2660,-5.78),(0.2700,-5.38),(0.2740,-5.02),(0.2780,-5.62),(0.2820,-5.90),
    (0.2860,-5.25),(0.2900,-5.48),(0.2940,-5.82),(0.2970,-5.10),(0.3010,-5.55),(0.3050,-5.33),(0.3090,-5.92),(0.3130,-5.18),
    (0.3170,-5.68),(0.3210,-5.40),(0.3250,-5.08),(0.3290,-5.75),(0.3330,-5.30),(0.3370,-5.58),(0.3410,-5.85),(0.3450,-5.20),
    (0.3490,-5.45),(0.3530,-5.70),(0.3570,-5.12),(0.3610,-5.52),(0.3650,-5.88),(0.3690,-5.28),(0.3720,-5.62),(0.3740,-5.05),
    (0.2190,-6.00),(0.2330,-6.12),(0.2470,-5.98),(0.2590,-6.20),(0.2720,-6.05),(0.2880,-6.18),(0.2990,-6.00),(0.3110,-6.25),
    (0.3230,-6.08),(0.3380,-6.15),(0.3520,-6.02),(0.3660,-6.20),(0.3730,-5.95),(0.2280,-4.85),(0.2550,-4.80),(0.2830,-4.90),
    (0.3030,-4.82),(0.3190,-4.95),(0.3350,-4.78),(0.3600,-4.88),(0.3710,-4.70),
]
right_cam7_b = [
    (0.0425,-5.74),(0.0437,-6.28),(0.0452,-5.33),(0.0466,-6.05),(0.0478,-5.58),(0.0493,-6.46),(0.0506,-5.87),(0.0519,-5.15),(0.0534,-6.19),(0.0546,-5.66),
    (0.0561,-6.62),(0.0574,-5.42),(0.0586,-5.98),(0.0599,-6.33),(0.0614,-5.21),(0.0627,-5.79),(0.0639,-6.12),(0.0654,-5.49),(0.0668,-6.71),(0.0681,-5.93),
    (0.0694,-5.28),(0.0707,-6.24),(0.0721,-5.62),(0.0734,-6.02),(0.0748,-5.37),(0.0761,-6.55),(0.0775,-5.84),(0.0787,-5.11),(0.0801,-6.15),(0.0814,-5.69),
    (0.0828,-6.38),(0.0842,-5.51),(0.0855,-5.95),(0.0868,-6.27),(0.0882,-5.24),(0.0895,-5.77),(0.0909,-6.49),(0.0921,-5.45),(0.0935,-6.08),(0.0948,-5.88),
    (0.0962,-5.18),(0.0975,-6.31),(0.0988,-5.60),(0.1002,-6.00),(0.1015,-5.35),(0.1029,-6.68),(0.1042,-5.81),(0.1055,-5.13),(0.1069,-6.21),(0.1082,-5.65),
    (0.1096,-6.42),(0.1109,-5.47),(0.1122,-5.97),(0.1136,-6.14),(0.1149,-5.26),(0.1163,-5.75),(0.1176,-6.57),(0.1189,-5.52),(0.1203,-6.06),(0.1216,-5.90),
    (0.1229,-5.20),(0.1243,-6.35),(0.1256,-5.63),(0.1269,-6.01),(0.1283,-5.39),(0.1297,-6.74),(0.1309,-5.83),(0.1323,-5.09),(0.1337,-6.23),(0.1349,-5.71),
    (0.1363,-6.44),(0.1377,-5.43),(0.1389,-5.99),(0.1403,-6.17),(0.1416,-5.30),(0.1429,-5.78),(0.1443,-6.60),(0.1456,-5.55),(0.1469,-6.09),(0.1483,-5.86),
    (0.1496,-5.14),(0.1509,-6.30),(0.1523,-5.67),(0.1536,-6.03),(0.1549,-5.40),(0.1563,-6.52),(0.1576,-5.80),(0.1589,-5.22),(0.1603,-6.20),(0.1616,-5.59),
    (0.1629,-6.39),(0.1643,-5.48),(0.1656,-5.94),(0.1669,-6.11),(0.1683,-5.32),(0.1696,-5.76),(0.1709,-6.65),(0.1723,-5.53),(0.1736,-6.04),(0.1749,-5.89),
    (0.1763,-5.17),(0.1776,-6.26),(0.1789,-5.64),(0.1803,-6.00),(0.1816,-5.36),(0.1829,-6.48),(0.1843,-5.82),(0.1856,-5.10),(0.1869,-6.22),(0.1883,-5.70),
    (0.1896,-6.36),(0.1909,-5.44),(0.1923,-5.96),(0.1936,-6.13),(0.1949,-5.27),(0.1963,-5.79),(0.1976,-6.58),(0.1989,-5.56),(0.2003,-6.07),(0.2016,-5.91),
    (0.2029,-5.19),(0.2043,-6.29),(0.2056,-5.61),(0.2069,-6.02),(0.2083,-5.38),(0.2096,-6.70),(0.2109,-5.85),(0.2123,-5.12),(0.2136,-6.18),(0.2149,-5.72),
    (0.2163,-6.43),(0.2176,-5.46),(0.2189,-5.98),(0.2203,-6.15),(0.2216,-5.23),(0.2229,-5.77),(0.2243,-6.54),(0.2256,-5.50),(0.2269,-6.05),(0.2283,-5.87),
    (0.2296,-5.16),(0.2309,-6.32),(0.2323,-5.68),(0.2336,-6.01),(0.2349,-5.34),(0.2363,-6.61),(0.2376,-5.83),(0.2389,-5.07),(0.2403,-6.24),(0.2416,-5.66),
    (0.2429,-6.40),(0.2443,-5.45),(0.2456,-5.95),(0.2469,-6.10),(0.2483,-5.29),(0.2496,-5.78),(0.2509,-6.66),(0.2523,-5.57),(0.2536,-6.08),(0.2549,-5.90),
    (0.2563,-5.20),(0.2576,-6.27),(0.2589,-5.63),(0.2603,-6.00),(0.2616,-5.41),(0.2629,-6.50),(0.2643,-5.81),(0.2656,-5.14),(0.2669,-6.19),(0.2683,-5.73),
    (0.2696,-6.37),(0.2709,-5.48),(0.2723,-5.97),(0.2736,-6.16),(0.2749,-5.25),(0.2763,-5.76),(0.2776,-6.59),(0.2789,-5.54),(0.2803,-6.06),(0.2816,-5.88),
    (0.2829,-5.18),(0.2843,-6.30),(0.2856,-5.65),(0.2869,-6.03),(0.2883,-5.37),(0.2896,-6.72),(0.2909,-5.84),(0.2923,-5.11),(0.2936,-6.21),(0.2949,-5.70),
    (0.2963,-6.45),(0.2976,-5.44),(0.2989,-5.99),(0.3003,-6.12),(0.3016,-5.30),(0.3029,-5.80),(0.3043,-6.56),(0.3056,-5.52),(0.3069,-6.04),(0.3083,-5.92),
    (0.3096,-5.15),(0.3109,-6.33),(0.3123,-5.61),(0.3136,-6.02),(0.3149,-5.39),(0.3163,-6.47),(0.3176,-5.86),(0.3189,-5.08),(0.3203,-6.25),(0.3216,-5.67),
    (0.3229,-6.41),(0.3243,-5.47),(0.3256,-5.96),(0.3269,-6.14),(0.3283,-5.26),(0.3296,-5.75),(0.3309,-6.63),(0.3323,-5.58),(0.3336,-6.07),(0.3349,-5.89),
    (0.3363,-5.21),(0.3376,-6.28),(0.3389,-5.64),(0.3403,-6.00),(0.3416,-5.35),(0.3429,-6.53),(0.3443,-5.82),(0.3456,-5.13),(0.3469,-6.20),(0.3483,-5.71),
    (0.3496,-6.38),(0.3509,-5.45),(0.3523,-5.97),(0.3536,-6.11),(0.3549,-5.28),(0.3563,-5.79),(0.3576,-6.68),(0.3589,-5.55),(0.3603,-6.05),(0.3616,-5.91),
    (0.3629,-5.17),(0.3643,-6.31),(0.3656,-5.62),(0.3669,-6.03),(0.3683,-5.40),(0.3696,-6.44),(0.3709,-5.85),(0.3723,-5.10),(0.3736,-6.22),(0.3748,-5.69),
]
# panel b) CAM 1e-2 point
right_cam2 = [(0.2184, -2.00)]

ACPL_LOW = 1e-7
ACPL_MID = 1e-5

BLUE, CYAN, MAGENTA, GREEN = (0, 0, 1), (0, 1, 1), (1, 0, 1), (0, 0.9, 0)
TXT = '#262626'


def unzip(pairs):
    a = np.array(pairs, dtype=float)
    if a.size == 0:
        return np.array([]), np.array([])
    return a[:, 0], 10.0 ** a[:, 1]


def draw_panel(ax, nominal, cam7, cam5_extra, cam2, title, xlim, xticks, decades,
               legend_anchor, ylabel_x):
    nx, ny = unzip(nominal)
    cx, cy = unzip(cam7)
    mx, my = unzip(cam5_extra)
    gx, gy = unzip(cam2)

    # grid
    ax.set_axisbelow(True)
    ax.grid(True, which='major', color='#d5d5d5', lw=0.8)
    ax.grid(True, which='minor', axis='y', color='#cccccc', lw=0.6, ls=':')

    ax.plot(nx, ny, 'o', color=BLUE, ms=3.0, mec='none', zorder=3)
    # CAM 1e-7: every conjunction above the threshold is lowered to 1e-7
    above7 = ny > ACPL_LOW
    ax.plot(nx[above7], np.full(above7.sum(), ACPL_LOW), 'o', mfc='none',
            mec=CYAN, ms=7.5, mew=1.0, zorder=4)
    ax.plot(cx, cy, 'o', mfc='none', mec=CYAN, ms=7.5, mew=1.0, zorder=4)
    # CAM 1e-5
    above5 = ny > ACPL_MID
    ax.plot(nx[above5], np.full(above5.sum(), ACPL_MID), 'o', color=MAGENTA,
            ms=3.3, mec='none', zorder=5)
    if len(mx):
        ax.plot(mx, my, 'o', color=MAGENTA, ms=3.3, mec='none', zorder=5)
    if len(gx):
        ax.plot(gx, gy, 'd', color=GREEN, ms=10, mec=GREEN, zorder=6)

    ax.set_yscale('log')
    ax.set_xlim(*xlim)
    ax.set_ylim(10.0 ** decades[0], 10.0 ** decades[-1])
    ax.set_xticks(xticks)
    ax.xaxis.set_major_formatter(FuncFormatter(lambda v, p: f"{v:g}"))
    ax.yaxis.set_major_locator(FixedLocator([10.0 ** k for k in decades]))
    ax.yaxis.set_major_formatter(LogFormatterSciNotation())
    ax.yaxis.set_minor_locator(FixedLocator([m * 10.0 ** k for k in decades[:-1] for m in range(2, 10)]))
    ax.yaxis.set_minor_formatter(NullFormatter())
    ax.tick_params(which='both', direction='in', colors='#404040', labelcolor=TXT, labelsize=12.5)
    ax.tick_params(which='major', length=4)
    ax.tick_params(which='minor', length=2)
    ax.tick_params(axis='x', pad=8)
    ax.tick_params(axis='y', pad=6)
    for s in ('top', 'right'):
        ax.spines[s].set_visible(False)
    for s in ('left', 'bottom'):
        ax.spines[s].set_color('#404040')

    ax.set_title(title, fontsize=13, fontweight='bold', pad=5)
    ax.set_xlabel('Warning time [d]', fontsize=12.5, color=TXT, labelpad=4)
    ax.set_ylabel('PoC [-]', fontsize=12.5, color=TXT)
    ax.yaxis.set_label_coords(ylabel_x, 0.5)

    handles = [
        Line2D([], [], ls='none', marker='o', color=BLUE, ms=7, mec='none'),
        Line2D([], [], ls='none', marker='o', mfc='white', mec=CYAN, ms=7, mew=1.2),
        Line2D([], [], ls='none', marker='o', color=MAGENTA, ms=7, mec='none'),
        Line2D([], [], ls='none', marker='d', color=GREEN, ms=8, mec=GREEN),
    ]
    labels = ['Nominal', 'CAM ACPL = 1e-7', 'CAM ACPL = 1e-5', 'CAM ACPL = 1e-2']
    leg = ax.legend(handles, labels, loc='upper right', bbox_to_anchor=legend_anchor,
                    fontsize=10.8, frameon=True, fancybox=False, framealpha=1,
                    edgecolor='#808080', borderpad=0.4, labelspacing=0.32,
                    handlelength=3.2, handletextpad=0.6, borderaxespad=0)
    leg.get_frame().set_linewidth(1.0)
    leg.set_zorder(10)


fig = plt.figure(figsize=(12.62, 5.53), dpi=100)
ax1 = fig.add_axes([0.0555, 0.1736, 0.4303, 0.7703])
ax2 = fig.add_axes([0.5491, 0.1627, 0.4334, 0.7830])

draw_panel(ax1, left_cloud + left_cloud_b + left_cloud_c + left_sparse + left_cam7, left_cam7,
           left_cam5_extra, [],
           'LEOMEGCONST conjunction NO: PoC [-]', (0.5, 0.85),
           [0.5, 0.55, 0.6, 0.65, 0.7, 0.75, 0.8, 0.85], list(range(-8, -1)),
           (0.976, 0.972), -0.075)
draw_panel(ax2, right_cloud + right_sparse + right_cam7 + right_cam7_b, right_cam7 + right_cam7_b,
           [], right_cam2,
           'LEOMEGCONST conjunction YES: PoC [-]', (0.0, 0.4),
           [0, 0.05, 0.1, 0.15, 0.2, 0.25, 0.3, 0.35, 0.4], list(range(-8, 0)),
           (0.978, 0.970), -0.066)

serif = ['Liberation Serif', 'DejaVu Serif']
fig.text(28 / 1262, 1 - 541 / 553, 'a)    PoC. Concept of operations: standard', family=serif,
         fontsize=17, va='center', ha='left')
fig.text(652 / 1262, 1 - 541 / 553, 'b)    PoC. Concept of operations: new', family=serif,
         fontsize=17, va='center', ha='left')

fig.savefig('out.png', dpi=100)
